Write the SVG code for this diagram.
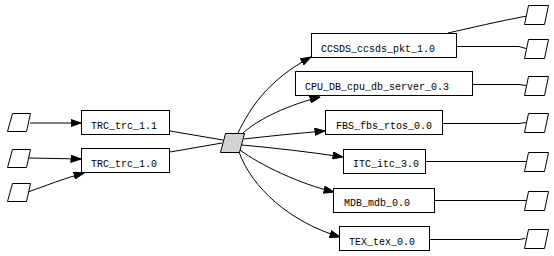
<svg xmlns="http://www.w3.org/2000/svg" width="554" height="256" viewBox="0 0 554 256">
<style>
.box{fill:#fff;stroke:#000;stroke-width:1}
.io{fill:#fff;stroke:#000;stroke-width:1}
.hub{fill:#d3d3d3;stroke:#000;stroke-width:1}
.lbl{font-family:"Liberation Mono","DejaVu Sans Mono",monospace;font-size:10px;fill:#000}
.e{fill:none;stroke:#000;stroke-width:1}
.a{marker-end:url(#arr)}
</style>
<defs>
<marker id="arr" markerUnits="userSpaceOnUse" markerWidth="11" markerHeight="8" viewBox="0 0 11 8" refX="10.5" refY="4" orient="auto">
<path d="M0.5,0.5 L10.5,4 L0.5,7.5 z" fill="#000" stroke="#000" stroke-width="1"/>
</marker>
</defs>
<rect width="554" height="256" fill="#fff"/>
<g id="connectors">
<path class="e a" d="M30,123 L81,123"/>
<path class="e a" d="M29,158 L81,159"/>
<path class="e a" d="M28,192 C45,186 65,178 84,173"/>
<path class="e" d="M170,131 L223,140"/>
<path class="e" d="M170,152 L222,143"/>
<path class="e a" d="M238,133 C250,108 268,80 311,57"/>
<path class="e a" d="M241,135 C258,118 292,104 320,97"/>
<path class="e a" d="M244,139 C270,136 300,133 325,131"/>
<path class="e a" d="M242,145 C275,148 310,152 343,157"/>
<path class="e a" d="M240,150 C260,165 300,184 334,192"/>
<path class="e a" d="M239,152 C252,188 290,222 340,237"/>
<path class="e" d="M448,33 C470,28 500,21 527,16"/>
<path class="e" d="M457,46.5 L519,46.5 L526,48.5"/>
<path class="e" d="M473,84.5 L519,84.5 L526,85.5"/>
<path class="e" d="M443,123.5 L519,123.5 L526,122.5"/>
<path class="e" d="M426,161.5 L519,161.5 L526,161.5"/>
<path class="e" d="M435,200.5 L519,200.5 L526,200.5"/>
<path class="e" d="M430,239.5 L519,239.5 L525,238.5"/>
</g>
<g id="in1"><polygon class="io" points="12.5,113.5 30.5,113.5 26.5,131.5 7.5,131.5"/></g>
<g id="in2"><polygon class="io" points="12.5,149.5 30.5,149.5 26.5,167.5 7.5,167.5"/></g>
<g id="in3"><polygon class="io" points="12.5,183.5 30.5,183.5 26.5,201.5 7.5,201.5"/></g>
<g id="trc11"><rect class="box" x="81.5" y="110.5" width="88" height="24"/><text class="lbl" x="91" y="129">TRC_trc_1.1</text></g>
<g id="trc10"><rect class="box" x="81.5" y="148.5" width="88" height="24"/><text class="lbl" x="91" y="167">TRC_trc_1.0</text></g>
<g id="hub"><polygon class="hub" points="225.5,133.5 244.5,133.5 239.5,152.5 220.5,152.5"/></g>
<g id="ccsds"><rect class="box" x="311.5" y="33.5" width="145" height="24"/><text class="lbl" x="321" y="52">CCSDS_ccsds_pkt_1.0</text></g>
<g id="cpudb"><rect class="box" x="295.5" y="71.5" width="177" height="24"/><text class="lbl" x="305" y="90">CPU_DB_cpu_db_server_0.3</text></g>
<g id="fbs"><rect class="box" x="325.5" y="110.5" width="117" height="24"/><text class="lbl" x="336" y="129">FBS_fbs_rtos_0.0</text></g>
<g id="itc"><rect class="box" x="343.5" y="149.5" width="82" height="24"/><text class="lbl" x="353" y="167">ITC_itc_3.0</text></g>
<g id="mdb"><rect class="box" x="333.5" y="188.5" width="101" height="24"/><text class="lbl" x="344" y="206">MDB_mdb_0.0</text></g>
<g id="tex"><rect class="box" x="339.5" y="226.5" width="90" height="24"/><text class="lbl" x="349" y="245">TEX_tex_0.0</text></g>
<g id="out1"><polygon class="io" points="528.5,5.5 548.5,5.5 544.5,24.5 524.5,24.5"/></g>
<g id="out2"><polygon class="io" points="528.5,39.5 548.5,39.5 544.5,58.5 524.5,58.5"/></g>
<g id="out3"><polygon class="io" points="528.5,76.5 548.5,76.5 544.5,95.5 524.5,95.5"/></g>
<g id="out4"><polygon class="io" points="528.5,113.5 548.5,113.5 544.5,132.5 524.5,132.5"/></g>
<g id="out5"><polygon class="io" points="528.5,152.5 548.5,152.5 544.5,171.5 524.5,171.5"/></g>
<g id="out6"><polygon class="io" points="528.5,191.5 548.5,191.5 544.5,210.5 524.5,210.5"/></g>
<g id="out7"><polygon class="io" points="528.5,229.5 548.5,229.5 544.5,248.5 524.5,248.5"/></g>
</svg>
